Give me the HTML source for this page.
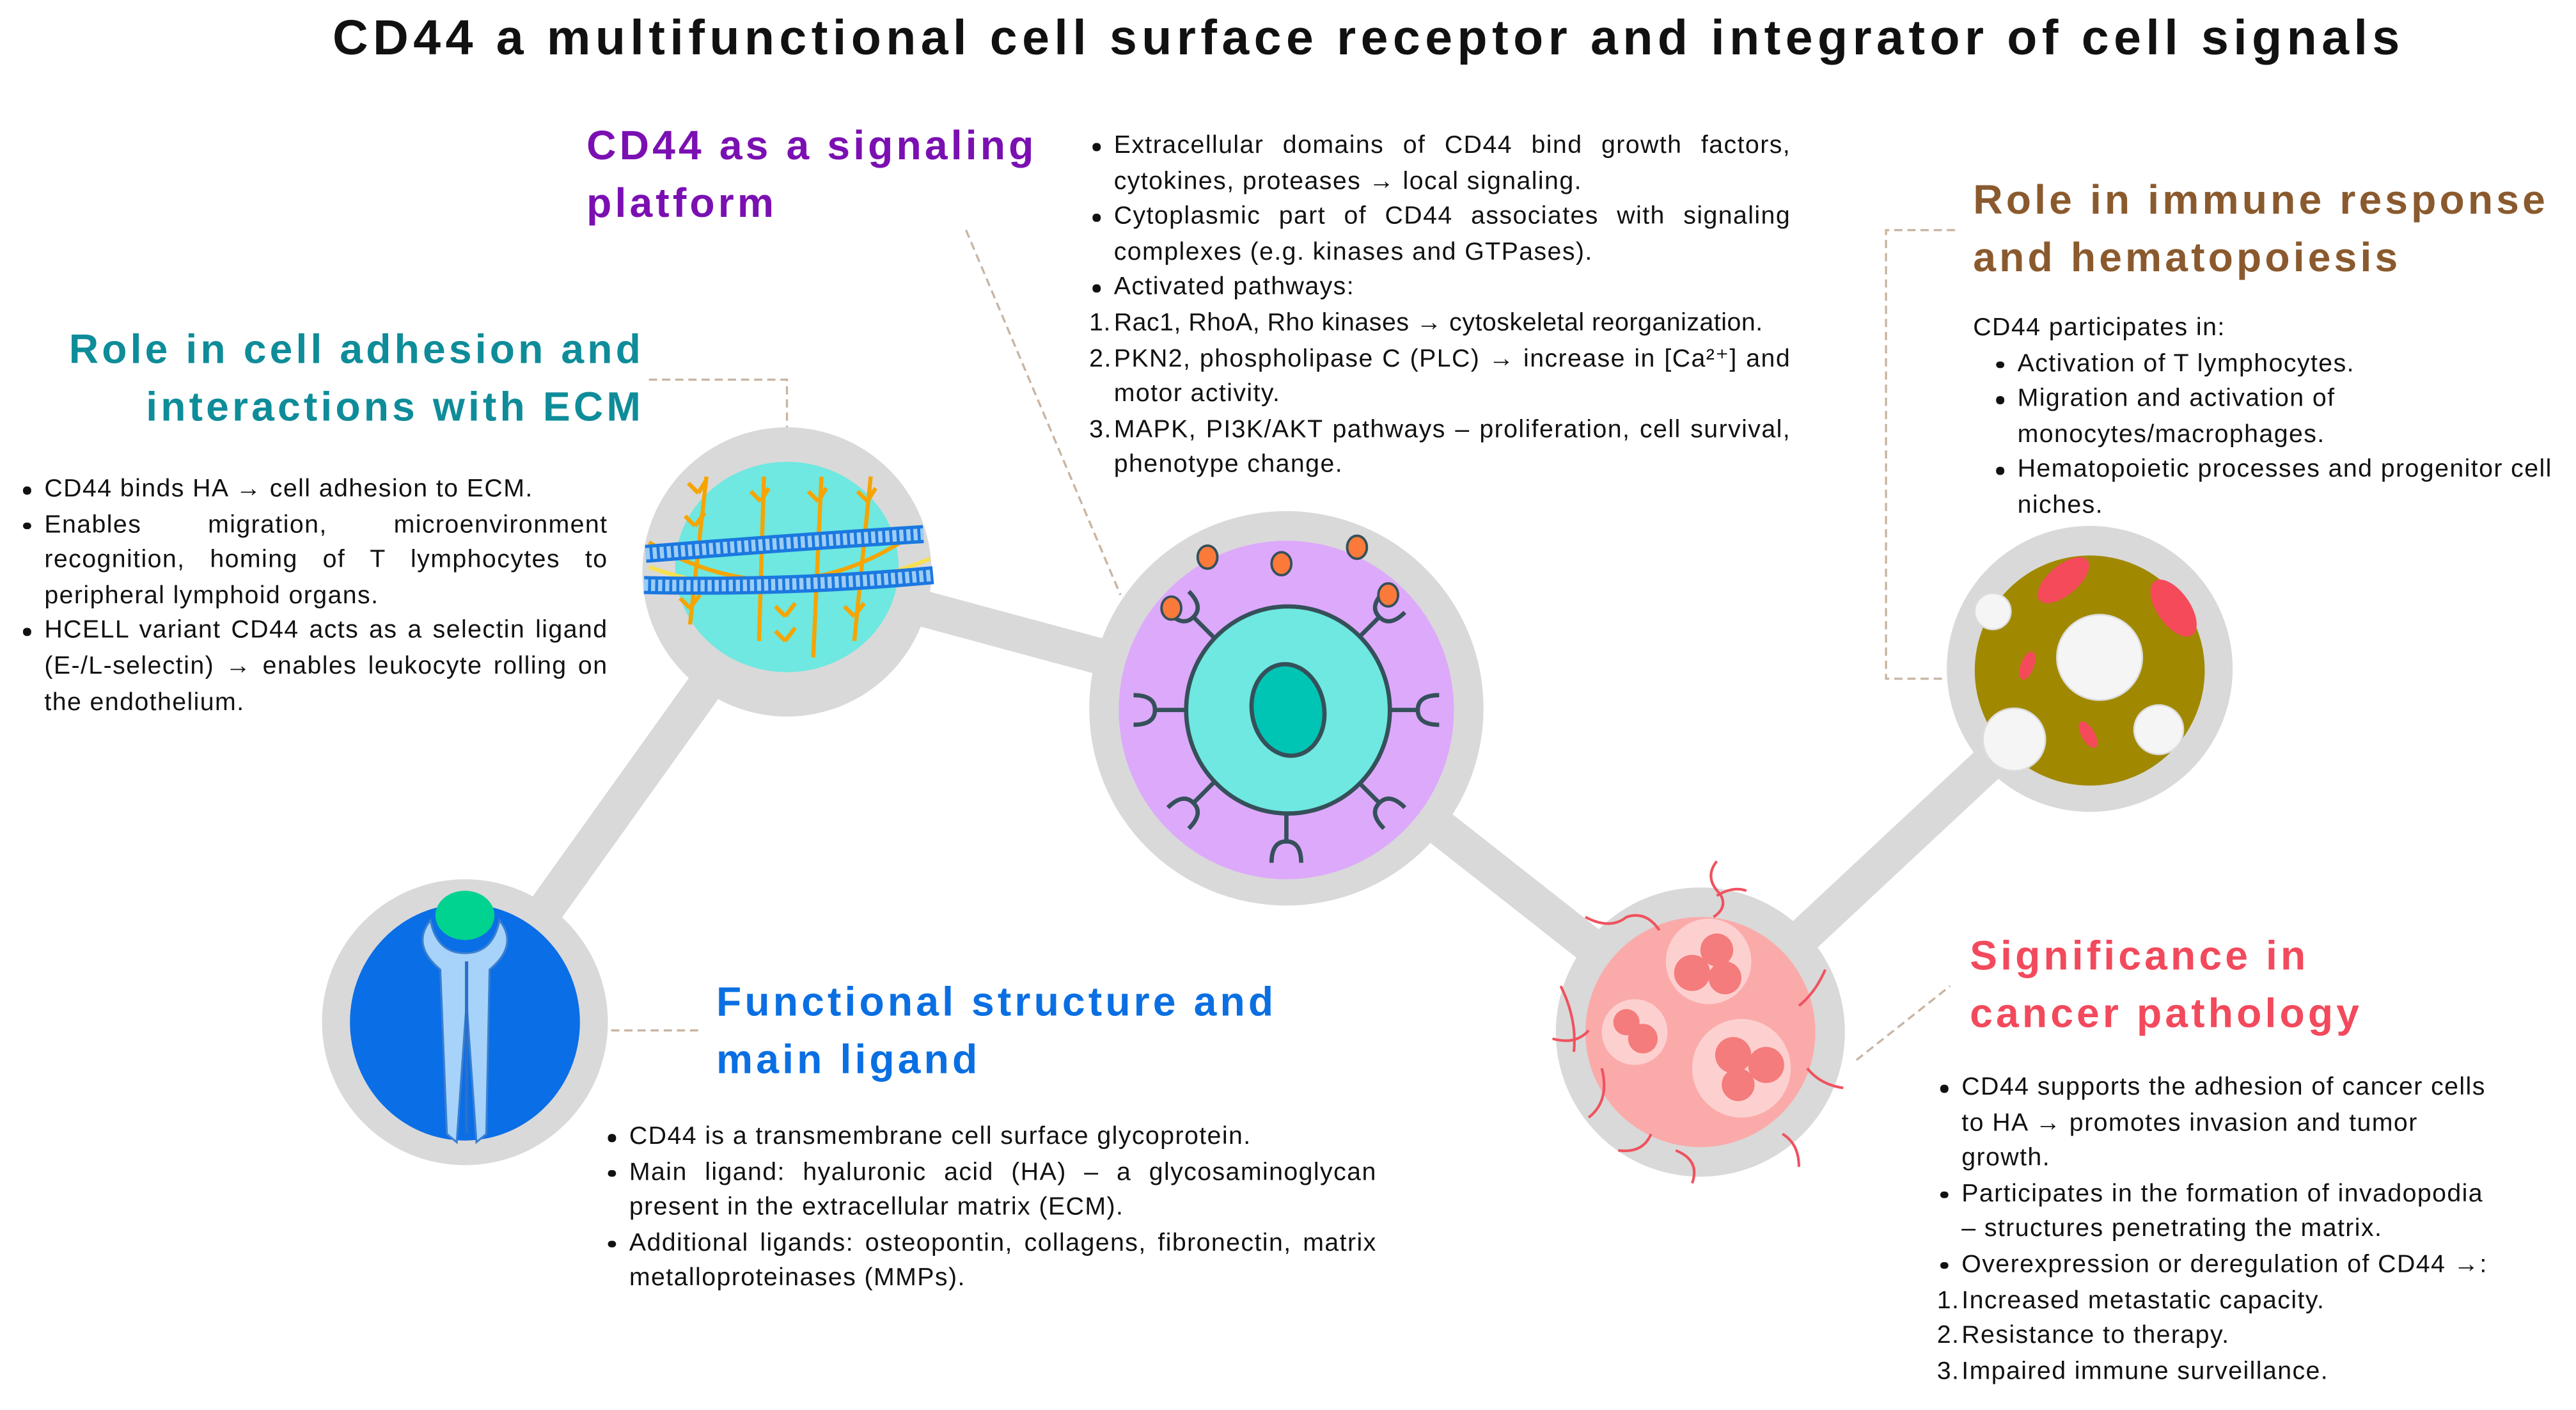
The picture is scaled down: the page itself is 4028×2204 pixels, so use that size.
<!DOCTYPE html>
<html><head><meta charset="utf-8">
<style>
html,body{margin:0;padding:0;background:#fff;}
body{width:4028px;height:2204px;overflow:hidden;position:relative;}
#s{position:absolute;left:0;top:0;width:1568px;height:858px;transform:scale(2.5689);transform-origin:0 0;font-family:"Liberation Sans",sans-serif;color:#111;}
.t{position:absolute;font-size:15.3px;line-height:21.6px;letter-spacing:0.55px;}
.j{text-align:justify;}
.h{position:absolute;font-weight:bold;font-size:25px;line-height:35px;letter-spacing:2px;}
.b{position:relative;padding-left:13px;}
.b:before{content:"";position:absolute;left:0;top:9px;width:4.5px;height:4.5px;border-radius:50%;background:#111;}
.n{position:relative;padding-left:13px;}
.n span{position:absolute;left:-2px;}
svg{position:absolute;left:0;top:0;}
</style></head><body><div id="s">
<svg width="1568" height="858" viewBox="0 0 1568 858">
<g stroke="#d9d9d9" stroke-width="22" stroke-linecap="round">
<line x1="283" y1="622" x2="479" y2="348"/>
<line x1="479" y1="348" x2="783" y2="430"/>
<line x1="783" y1="430" x2="1035" y2="628"/>
<line x1="1035" y1="628" x2="1272" y2="407"/>
</g>
<g fill="none" stroke="#c8b5a3" stroke-width="1.3" stroke-dasharray="5,3">
<polyline points="395,231 479,231 479,262"/>
<line x1="588" y1="140" x2="682" y2="362"/>
<polyline points="1190,140 1148,140 1148,413 1185,413"/>
<line x1="372" y1="627" x2="425" y2="627"/>
<line x1="1130" y1="645" x2="1187" y2="600"/>
</g>
<!-- ECM -->
<circle cx="479" cy="348" r="88" fill="#d9d9d9"/>
<ellipse cx="479" cy="345" rx="68" ry="64" fill="#6ee8e0"/>
<g stroke="#f6a400" stroke-width="2.5" fill="none">
<path d="M430 290 L420 380 M465 290 L462 390 M500 290 L495 400 M530 290 L520 390"/>
<path d="M395 330 Q480 380 560 322"/>
<path d="M425 300 l5 -8 M425 300 l-6 -6 M423 320 l6 -8 M423 320 l-6 -6 M463 305 l5 -8 M463 305 l-6 -6 M498 305 l5 -8 M498 305 l-6-6 M528 305 l5-8 M528 305 l-6-6 M420 370 l6-8 M420 370 l-6-6 M478 375 l6-8 M478 375 l-6-6 M478 390 l6-8 M478 390 l-6-6 M520 375 l6-8 M520 375 l-6-6"/>
</g>
<path d="M395 345 Q480 375 566 340" stroke="#f6e050" stroke-width="2.5" fill="none"/>
<g fill="none" stroke-linecap="butt">
<path d="M393 337 Q480 330 562 325" stroke="#1b78e0" stroke-width="11"/>
<path d="M393 337 Q480 330 562 325" stroke="#9ccdf6" stroke-width="7" stroke-dasharray="2.5,1.8"/>
<path d="M392 356 Q480 358 568 350" stroke="#1b78e0" stroke-width="11"/>
<path d="M392 356 Q480 358 568 350" stroke="#9ccdf6" stroke-width="7" stroke-dasharray="2.5,1.8"/>
</g>
<!-- signaling -->
<ellipse cx="783" cy="431" rx="120" ry="120" fill="#d9d9d9"/>
<ellipse cx="783" cy="432" rx="102" ry="103" fill="#dda9fb"/>
<g stroke="#35505a" stroke-width="2.6" fill="none">
<g id="rc">
<line x1="0" y1="-62" x2="0" y2="-80"/>
<path d="M-9 -93 Q-9 -80 0 -80 Q9 -80 9 -93"/>
</g>
<use href="#rc" transform="translate(783,432) rotate(-45)"/>
<use href="#rc" transform="translate(783,432) rotate(45)"/>
<use href="#rc" transform="translate(783,432) rotate(90)"/>
<use href="#rc" transform="translate(783,432) rotate(135)"/>
<use href="#rc" transform="translate(783,432) rotate(180)"/>
<use href="#rc" transform="translate(783,432) rotate(225)"/>
<use href="#rc" transform="translate(783,432) rotate(270)"/>
</g>
<ellipse cx="784" cy="432" rx="62" ry="63" fill="#6ee8e0" stroke="#35505a" stroke-width="2.6"/>
<ellipse cx="784" cy="432" rx="22" ry="28" fill="#00c4b4" stroke="#35505a" stroke-width="2.6" transform="rotate(-10 784 432)"/>
<g fill="#fb7a3a" stroke="#35505a" stroke-width="1.5">
<ellipse cx="735" cy="339" rx="6" ry="7"/><ellipse cx="780" cy="343" rx="6" ry="7"/>
<ellipse cx="826" cy="333" rx="6" ry="7"/><ellipse cx="845" cy="362" rx="6" ry="7"/>
<ellipse cx="713" cy="370" rx="6" ry="7"/>
</g>
<!-- structure -->
<circle cx="283" cy="622" r="87" fill="#d9d9d9"/>
<ellipse cx="283" cy="622" rx="70" ry="72" fill="#0a6ee6"/>
<path d="M262 560 Q250 575 268 590 L272 690 L278 695 L284 610 L290 695 L296 690 L298 590 Q316 575 304 560 Q300 580 283 580 Q266 580 262 560Z" fill="#a7d3fa" stroke="#3a7fd0" stroke-width="1.2"/>
<line x1="284" y1="585" x2="284" y2="690" stroke="#2b6fc9" stroke-width="2"/>
<ellipse cx="283" cy="557" rx="18" ry="15" fill="#00d290"/>
<!-- cancer -->
<circle cx="1035" cy="628" r="88" fill="#d9d9d9"/>
<circle cx="1035" cy="628" r="70" fill="#fbaaaa"/>
<circle cx="1040" cy="585" r="26" fill="#fdd0d0"/>
<circle cx="995" cy="628" r="20" fill="#fdd0d0"/>
<circle cx="1060" cy="650" r="30" fill="#fdd0d0"/>
<g fill="#f47c7c"><circle cx="1045" cy="578" r="10"/><circle cx="1030" cy="592" r="11"/><circle cx="1050" cy="595" r="10"/>
<circle cx="990" cy="622" r="8"/><circle cx="1000" cy="632" r="9"/>
<circle cx="1055" cy="642" r="11"/><circle cx="1075" cy="648" r="11"/><circle cx="1058" cy="660" r="10"/></g>
<g stroke="#f0525e" stroke-width="1.6" fill="none">
<path d="M1045 524 q-8 10 2 20 q5 8 -4 14 M1045 545 q10 -6 18 -3"/>
<path d="M965 558 q15 8 25 0 q12 -4 20 8"/>
<path d="M945 632 q14 4 22 -5 M1095 612 q10 -8 16 -22 M1100 650 q8 10 22 12 M1085 690 q10 6 10 20 M950 600 q10 20 8 40 M1005 690 q-5 12 -20 10 M1020 700 q15 6 10 20 M975 650 q5 20 -8 30"/>
</g>
<!-- immune -->
<circle cx="1272" cy="407" r="87" fill="#d9d9d9"/>
<circle cx="1272" cy="408" r="70" fill="#a08900"/>
<g fill="#f5f5f5" stroke="#ddd" stroke-width="1">
<circle cx="1278" cy="400" r="26"/><circle cx="1213" cy="372" r="11"/>
<circle cx="1226" cy="450" r="19"/><circle cx="1314" cy="444" r="15"/>
</g>
<g fill="#f44a5a">
<ellipse cx="1256" cy="353" rx="9" ry="19" transform="rotate(50 1256 353)"/>
<ellipse cx="1323" cy="370" rx="10" ry="20" transform="rotate(-35 1323 370)"/>
<ellipse cx="1234" cy="405" rx="4" ry="9" transform="rotate(20 1234 405)"/>
<ellipse cx="1271" cy="447" rx="4" ry="9" transform="rotate(-30 1271 447)"/>
</g>
</svg>

<div class="h" style="left:0;width:1666px;top:6px;text-align:center;font-size:30px;letter-spacing:2.9px;">CD44 a multifunctional cell surface receptor and integrator of cell signals</div>

<div class="h" style="left:357px;top:72px;color:#7b10b2;">CD44 as a signaling<br>platform</div>
<div class="t j" style="left:665px;top:78px;width:425px;">
<div class="b">Extracellular domains of CD44 bind growth factors, cytokines, proteases → local signaling.</div>
<div class="b">Cytoplasmic part of CD44 associates with signaling complexes (e.g. kinases and GTPases).</div>
<div class="b">Activated pathways:</div>
<div class="n" style="white-space:nowrap;letter-spacing:0.2px;text-align:left;"><span>1.</span>Rac1, RhoA, Rho kinases → cytoskeletal reorganization.</div>
<div class="n"><span>2.</span>PKN2, phospholipase C (PLC) → increase in [Ca²⁺] and motor activity.</div>
<div class="n"><span>3.</span>MAPK, PI3K/AKT pathways – proliferation, cell survival, phenotype change.</div>
</div>

<div class="h" style="left:0;width:392px;text-align:right;top:196px;color:#0e8c99;">Role in cell adhesion and<br>interactions with ECM</div>
<div class="t j" style="left:14px;top:287px;width:356px;">
<div class="b">CD44 binds HA → cell adhesion to ECM.</div>
<div class="b">Enables migration, microenvironment recognition, homing of T lymphocytes to peripheral lymphoid organs.</div>
<div class="b">HCELL variant CD44 acts as a selectin ligand (E-/L-selectin) → enables leukocyte rolling on the endothelium.</div>
</div>

<div class="h" style="left:1201px;top:105px;color:#8a5a2e;">Role in immune response<br>and hematopoiesis</div>
<div class="t" style="left:1201px;top:189px;width:367px;">
<div>CD44 participates in:</div>
<div style="padding-left:14px">
<div class="b">Activation of T lymphocytes.</div>
<div class="b">Migration and activation of<br>monocytes/macrophages.</div>
<div class="b">Hematopoietic processes and progenitor cell niches.</div>
</div></div>

<div class="h" style="left:436px;top:593px;color:#0a6fe2;">Functional structure and<br>main ligand</div>
<div class="t j" style="left:370px;top:681px;width:468px;">
<div class="b">CD44 is a transmembrane cell surface glycoprotein.</div>
<div class="b">Main ligand: hyaluronic acid (HA) – a glycosaminoglycan present in the extracellular matrix (ECM).</div>
<div class="b">Additional ligands: osteopontin, collagens, fibronectin, matrix metalloproteinases (MMPs).</div>
</div>

<div class="h" style="left:1199px;top:565px;color:#f24a5c;">Significance in<br>cancer pathology</div>
<div class="t" style="left:1181px;top:651px;width:345px;">
<div class="b">CD44 supports the adhesion of cancer cells to HA → promotes invasion and tumor growth.</div>
<div class="b">Participates in the formation of invadopodia<br>– structures penetrating the matrix.</div>
<div class="b">Overexpression or deregulation of CD44 →:</div>
<div class="n"><span>1.</span>Increased metastatic capacity.</div>
<div class="n"><span>2.</span>Resistance to therapy.</div>
<div class="n"><span>3.</span>Impaired immune surveillance.</div>
</div>
</div></body></html>
